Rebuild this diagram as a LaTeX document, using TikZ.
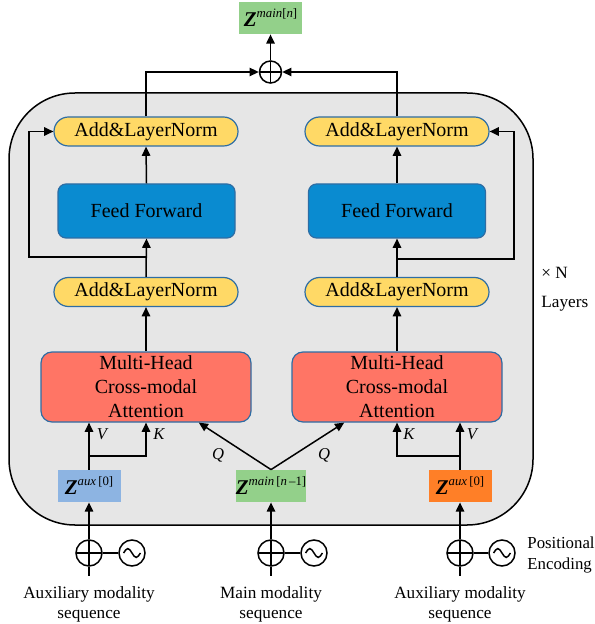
\documentclass[tikz,border=0pt]{standalone}
\usepackage{fontspec}
\setmainfont{Liberation Serif}
\usetikzlibrary{arrows.meta,shapes.misc,calc}
\definecolor{addyel}{HTML}{FFD966}
\definecolor{bord}{HTML}{2E6DA4}
\definecolor{ffblue}{HTML}{0A8BD0}
\definecolor{mhared}{HTML}{FF7565}
\definecolor{zgreen}{HTML}{93D08A}
\definecolor{zblue}{HTML}{8DB4E2}
\definecolor{zorange}{HTML}{FF7F27}
\definecolor{bggray}{HTML}{E6E6E6}
\newcommand\zlab[1]{\fontsize{10.5}{12}\selectfont\textbf{\textit{Z}}\raisebox{4.5pt}{\fontsize{6.4}{7}\selectfont #1}}
\begin{document}
\begin{tikzpicture}[x=0.5pt,y=-0.5pt,
  arr/.style={-{Triangle[length=4.6pt,width=4.2pt]}, line width=0.75pt},
  ln/.style={line width=0.75pt},
  addbox/.style={rounded rectangle, draw=bord, fill=addyel, line width=0.6pt,
    minimum width=92pt, minimum height=14.5pt, inner sep=0pt, font=\fontsize{10}{12}\selectfont},
  ffbox/.style={rectangle, rounded corners=4pt, draw=bord, fill=ffblue, line width=0.6pt,
    minimum width=88.5pt, minimum height=27pt, inner sep=0pt, font=\fontsize{10}{12}\selectfont},
  mhabox/.style={rectangle, rounded corners=5.5pt, draw=bord, fill=mhared, line width=0.6pt,
    minimum width=105pt, minimum height=35pt, inner sep=0pt, align=center,
    font=\fontsize{10}{12}\selectfont},
  zbox/.style={rectangle, minimum width=31.5pt, minimum height=16pt, inner sep=0pt},
  plusc/.style={circle, draw, line width=0.75pt, minimum size=#1, inner sep=0pt,
    path picture={\draw[line width=0.75pt] (path picture bounding box.north) -- (path picture bounding box.south)
      (path picture bounding box.west) -- (path picture bounding box.east);}},
  sinec/.style={circle, draw, line width=0.75pt, minimum size=13pt, inner sep=0pt,
    path picture={\draw[line width=0.75pt] ([xshift=-4.2pt]path picture bounding box.center)
      sin ++(2.1pt,2.2pt) cos ++(2.1pt,-2.2pt) sin ++(2.1pt,-2.2pt) cos ++(2.1pt,2.2pt);}},
  lab/.style={font=\fontsize{8.6}{10}\selectfont, inner sep=0pt},
  qkv/.style={font=\fontsize{8.3}{10}\selectfont\itshape, inner sep=0pt}
]
\useasboundingbox (0,0) rectangle (594,624);

% outer layer box
\draw[fill=bggray, line width=0.75pt, rounded corners=33pt] (9,93) rectangle (533,525);

% nodes
\node[zbox, fill=zgreen] (zout) at (270.5,18) {\zlab{\textit{main}[\textit{n}]}};
\node[plusc=11pt] (topplus) at (270.5,72) {};

\node[addbox] (addL1) at (146,131.5) {Add\&LayerNorm};
\node[addbox] (addR1) at (397,131.5) {Add\&LayerNorm};
\node[ffbox] (ffL) at (146.5,211) {Feed Forward};
\node[ffbox] (ffR) at (397,211) {Feed Forward};
\node[addbox] (addL2) at (146,292) {Add\&LayerNorm};
\node[addbox] (addR2) at (397,292) {Add\&LayerNorm};
\node[mhabox] (mhaL) at (146,387) {Multi-Head\\Cross-modal\\Attention};
\node[mhabox] (mhaR) at (397,387) {Multi-Head\\Cross-modal\\Attention};

\node[zbox, fill=zblue] (zaL) at (89,486) {\zlab{\textit{aux}\,[0]}};
\node[zbox, fill=zgreen] (zm) at (271,486) {\zlab{\textit{main}\,[\textit{n}\,\textendash1]}};
\node[zbox, fill=zorange] (zaR) at (460,486) {\zlab{\textit{aux}\,[0]}};

\node[plusc=13pt] (plusL) at (89,553) {};
\node[sinec] (sinL) at (132,553) {};
\node[plusc=13pt] (plusM) at (271,553) {};
\node[sinec] (sinM) at (314,553) {};
\node[plusc=13pt] (plusR) at (460,553) {};
\node[sinec] (sinR) at (502,553) {};

\coordinate (botL) at (89,576);
\coordinate (botM) at (271,576);
\coordinate (botR) at (460,576);
\coordinate (skL) at (146,257);
\coordinate (skL2) at (29,257);
\coordinate (skR) at (397,259);
\coordinate (skR2) at (514,259);
\coordinate (brL) at (89,456);
\coordinate (brR) at (460,456);

% texts
\node[lab, anchor=west] (xn) at (541,273) {× N};
\node[lab, anchor=west] (layers) at (541,304) {Layers};
\node[lab, anchor=west, align=left, font=\fontsize{8.4}{10.5}\selectfont] (pe) at (527,555) {Positional\\Encoding};
\node[lab, align=center] (tL) at (89,604) {Auxiliary modality\\sequence};
\node[lab, align=center] (tM) at (271,604) {Main modality\\sequence};
\node[lab, align=center] (tR) at (460,604) {Auxiliary modality\\sequence};

% connectors top
\draw[arr] (addL1.north) |- (topplus.west);
\draw[arr] (addR1.north) |- (topplus.east);
\draw[arr] (topplus.north) -- (zout.south);

\draw[arr] (ffL.north) -- (addL1.south);
\draw[arr] (ffR.north) -- (addR1.south);
\draw[arr] (addL2.north) -- (ffL.south);
\draw[arr] (addR2.north) -- (ffR.south);
\draw[arr] (skL) -- (skL2) |- (addL1.west);
\draw[arr] (skR) -- (skR2) |- (addR1.east);
\draw[arr] (mhaL.north) -- (addL2.south);
\draw[arr] (mhaR.north) -- (addR2.south);

% V K Q
\draw[arr] (zaL.north) -- (zaL.north |- mhaL.south);
\draw[arr] (brL) -| (mhaL.south);
\draw[arr] (zaR.north) -- (zaR.north |- mhaR.south);
\draw[arr] (brR) -| (mhaR.south);
\draw[arr] (zm.north) -- ($(mhaL.south)!0.5!(mhaL.south east)$);
\draw[arr] (zm.north) -- ($(mhaR.south)!0.5!(mhaR.south west)$);

\node[qkv] (vL) at (102,434) {V};
\node[qkv] (kL) at (159,434) {K};
\node[qkv] (kR) at (409,434) {K};
\node[qkv] (vR) at (472,434) {V};
\node[qkv] (qL) at (218,455) {Q};
\node[qkv] (qR) at (324,455) {Q};

% bottom
\draw[arr] (plusL.north) -- (zaL.south);
\draw[arr] (plusM.north) -- (zm.south);
\draw[arr] (plusR.north) -- (zaR.south);
\draw[ln] (plusL.east) -- (sinL.west);
\draw[ln] (plusM.east) -- (sinM.west);
\draw[ln] (plusR.east) -- (sinR.west);
\draw[ln] (plusL.south) -- (botL);
\draw[ln] (plusM.south) -- (botM);
\draw[ln] (plusR.south) -- (botR);
\end{tikzpicture}
\end{document}
